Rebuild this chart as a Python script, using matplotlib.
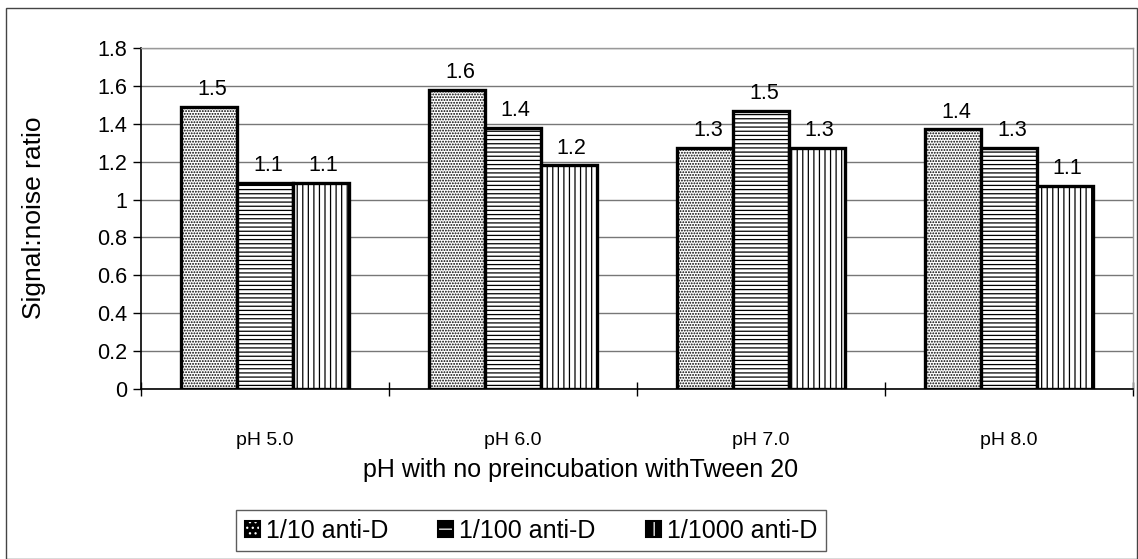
import matplotlib

matplotlib.use("Agg")
import matplotlib.pyplot as plt
import numpy as np
from matplotlib.legend_handler import HandlerTuple
from matplotlib.patches import Patch, Rectangle
from matplotlib.ticker import FuncFormatter

plt.rcParams["font.family"] = ["Liberation Sans", "DejaVu Sans"]
plt.rcParams["hatch.linewidth"] = 0.9

categories = ["pH 5.0", "pH 6.0", "pH 7.0", "pH 8.0"]
series_names = ["1/10 anti-D", "1/100 anti-D", "1/1000 anti-D"]
dil_10 = [1.49, 1.58, 1.27, 1.37]
dil_100 = [1.09, 1.38, 1.47, 1.27]
dil_1000 = [1.09, 1.18, 1.27, 1.07]
y_ticks = [0, 0.2, 0.4, 0.6, 0.8, 1.0, 1.2, 1.4, 1.6, 1.8]

series = [dil_10, dil_100, dil_1000]
hatches = ["......", "----", "|||"]
key_hatches = ["...", "--", "||"]

fig = plt.figure(figsize=(11.38, 5.59), dpi=100)
ax = fig.add_axes([141 / 1138, 170 / 559, 992 / 1138, 341 / 559])

# outer chart frame
fig.patches.append(Rectangle((6 / 1138, 0.0), 1131 / 1138, 551 / 559, transform=fig.transFigure,
                             fill=False, edgecolor="#444444", linewidth=1.0))

x = np.arange(len(categories))
width = 0.225
for i, (vals, hatch) in enumerate(zip(series, hatches)):
    pos = x + (i - 1) * width
    bars = ax.bar(pos, vals, width=width, facecolor="white", edgecolor="black",
                  linewidth=2.4, hatch=hatch, zorder=3)
    for b, v in zip(bars, vals):
        ax.annotate(f"{v:.1f}", (b.get_x() + b.get_width() / 2, v), xytext=(2, 5),
                    textcoords="offset points", ha="center", va="bottom", fontsize=15.5)

ax.set_ylim(0, 1.8)
ax.set_xlim(-0.5, len(categories) - 0.5)
ax.set_yticks(y_ticks)
ax.yaxis.set_major_formatter(FuncFormatter(lambda v, _: f"{v:g}"))
ax.tick_params(axis="y", labelsize=15.5, length=6, width=1, pad=4)
ax.grid(True, axis="y", color="#777777", linewidth=1.0, zorder=0)

ax.set_xticks(np.arange(len(categories) + 1) - 0.5)
ax.set_xticklabels([])
ax.set_xticks(x, minor=True)
ax.set_xticklabels(categories, minor=True)
ax.tick_params(axis="x", which="major", direction="inout", length=10, width=1)
ax.tick_params(axis="x", which="minor", length=0, labelsize=14, pad=31)

for side in ("top", "right"):
    ax.spines[side].set_color("#999999")
    ax.spines[side].set_linewidth(1.0)
for side in ("left", "bottom"):
    ax.spines[side].set_color("black")
    ax.spines[side].set_linewidth(1.2)

fig.text(34 / 1138, 1 - 218 / 559, "Signal:noise ratio", rotation=90, ha="center", va="center",
         fontsize=19)
fig.text(581 / 1138, 1 - 470 / 559, "pH with no preincubation withTween 20", ha="center",
         va="center", fontsize=18)

# legend keys: black squares with a white pattern and a black rim
handles = [
    (Patch(facecolor="black", edgecolor="white", linewidth=0, hatch=h),
     Patch(facecolor="none", edgecolor="black", linewidth=1.5))
    for h in key_hatches
]
leg = fig.legend(handles, series_names, loc="center", bbox_to_anchor=(531 / 1138, 1 - 530.5 / 559),
                 ncol=3, fontsize=18, frameon=True, fancybox=False, handlelength=0.6,
                 handleheight=0.6, handletextpad=0.25, columnspacing=2.0, borderpad=0.35,
                 handler_map={tuple: HandlerTuple(ndivide=1, pad=0)})
leg.get_frame().set_edgecolor("#333333")
leg.get_frame().set_linewidth(1.0)

fig.savefig("out.png", dpi=100)
